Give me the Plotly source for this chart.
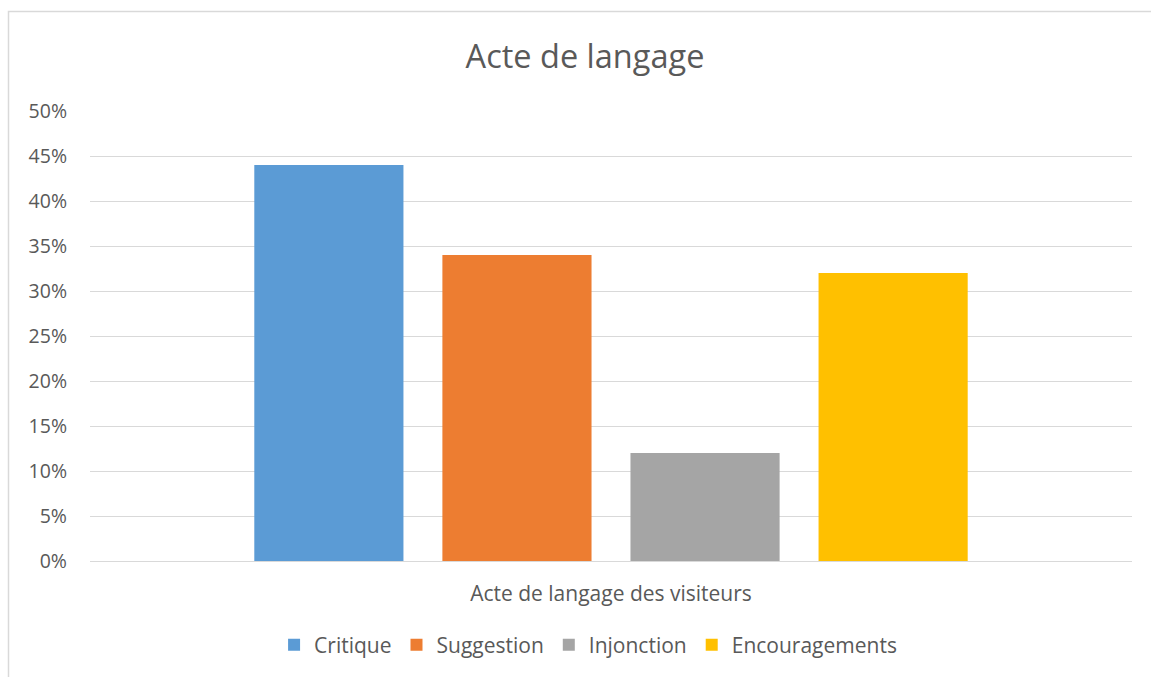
import plotly.graph_objects as go

category = ["Acte de langage des visiteurs"]
series_names = ["Critique", "Suggestion", "Injonction", "Encouragements"]
series_values = [0.44, 0.34, 0.12, 0.32]
series_colors = ["#5B9BD5", "#ED7D31", "#A5A5A5", "#FFC000"]
y_ticks = [0, 0.05, 0.10, 0.15, 0.20, 0.25, 0.30, 0.35, 0.40, 0.45, 0.50]
y_tick_labels = ["0%", "5%", "10%", "15%", "20%", "25%", "30%", "35%", "40%", "45%", "50%"]

FONT = "Open Sans, Lato, sans-serif"
TXT = "#595959"

W, H = 1151, 677
ML, MT, PW, PH = 90, 111, 1042, 450

fig = go.Figure()
for name, val, col in zip(series_names, series_values, series_colors):
    fig.add_trace(go.Bar(x=category, y=[val], name=name, marker_color=col,
                         marker_line_width=0))

fig.update_layout(
    width=W, height=H,
    paper_bgcolor="white", plot_bgcolor="white",
    margin=dict(l=ML, r=W - ML - PW, t=MT, b=H - MT - PH, autoexpand=False),
    barmode="group", bargap=0.278, bargroupgap=0.207,
    font=dict(family=FONT, color=TXT, size=20),
    title=dict(text="Acte de langage", x=585 / W, xanchor="center",
               xref="container", yref="container",
               y=1 - 57 / H, yanchor="middle",
               font=dict(family=FONT, size=32.5, color=TXT)),
    legend=dict(orientation="h", x=0.478, xanchor="center", y=-0.187, yanchor="middle",
                font=dict(family=FONT, size=21, color=TXT), itemwidth=30,
                traceorder="normal"),
    showlegend=True,
)
fig.update_yaxes(range=[0, 0.5], tickvals=y_ticks, ticktext=y_tick_labels,
                 showgrid=True, gridcolor="#D9D9D9", gridwidth=1,
                 zeroline=False, showline=False, ticks="", ticklabelstandoff=22,
                 tickfont=dict(family=FONT, size=19.5, color=TXT))
fig.update_xaxes(showline=True, linecolor="#D9D9D9", linewidth=1, ticks="",
                 ticklabelstandoff=14,
                 tickfont=dict(family=FONT, size=21, color=TXT))

# chart border (left and top edges visible, the rest lies beyond the window)
fig.add_shape(type="rect", xref="paper", yref="paper",
              x0=(8.5 - ML) / PW, x1=1.2, y0=-0.5, y1=(MT + PH - 11.5) / PH,
              line=dict(color="#D9D9D9", width=1.5), fillcolor="rgba(0,0,0,0)",
              layer="below")

fig.write_html("out.html", config={"displayModeBar": False},
               post_script="document.body.style.margin='0';document.body.style.overflow='hidden';")
